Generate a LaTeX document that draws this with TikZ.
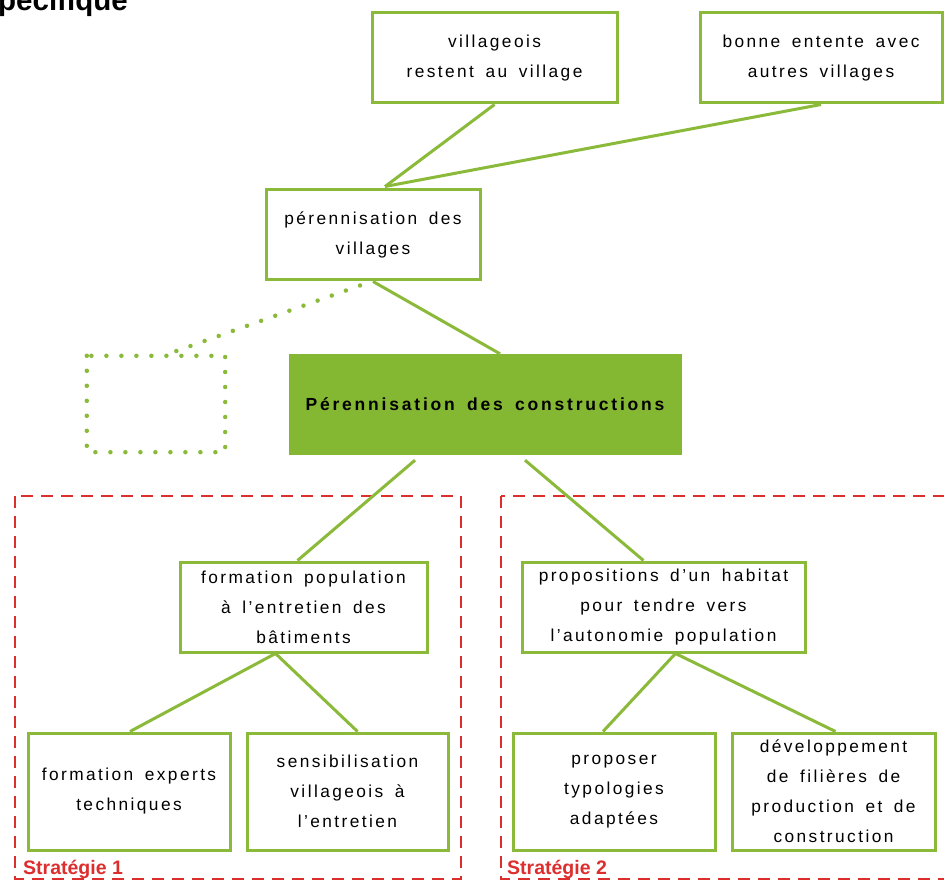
\documentclass[tikz,border=0pt]{standalone}
\usepackage{fontspec}
\setmainfont{Liberation Sans}[LetterSpace=14,WordSpace=1.6]
\newfontfamily\titlefont{Liberation Sans}[LetterSpace=0]
\newfontfamily\mainboxfont{Liberation Sans}[LetterSpace=16,WordSpace=1.6]
\usetikzlibrary{calc}
\definecolor{leaf}{HTML}{8BBA3A}
\definecolor{leaffill}{HTML}{84B832}
\definecolor{stratred}{HTML}{DD2E2E}
\tikzset{
  gbox/.style={draw=leaf, line width=3pt, fill=white, align=center, font=\fontsize{17.3}{30}\selectfont, inner sep=0pt},
  link/.style={draw=leaf, line width=3pt},
  dotline/.style={draw=leaf, line width=4.5pt, line cap=round, dash pattern=on 0pt off 15pt},
  stratbox/.style={draw=stratred, line width=2.6pt, dash pattern=on 12pt off 8pt},
  stratlabel/.style={text=stratred, font=\titlefont\bfseries\fontsize{19.5}{22}\selectfont, anchor=base west, inner sep=0pt}
}
\begin{document}
\begin{tikzpicture}[x=1pt,y=-1pt]
\useasboundingbox (0,0) rectangle (944,882);
\clip (0,0) rectangle (944,882);
% title fragment
\node[anchor=base west, inner sep=0pt, font=\titlefont\bfseries\fontsize{29.5}{32}\selectfont] (title) at (-2,11) {pécifique};
% strategy boxes
\draw[stratbox] (15,496) rectangle (461,879);
\draw[stratbox] (501,496) rectangle (950,879);
\node[stratlabel] (s1) at (23,874) {Stratégie 1};
\node[stratlabel] (s2) at (507,874) {Stratégie 2};
% nodes
\node[gbox, minimum width=245pt, minimum height=90pt] (vill) at (494.5,58) {villageois\\restent au village};
\node[gbox, minimum width=242pt, minimum height=90pt] (bonne) at (821,58) {bonne entente avec\\autres villages};
\node[gbox, minimum width=214pt, minimum height=90pt] (per) at (373,235) {pérennisation des\\villages};
\node[draw=none, minimum width=138pt, minimum height=96pt] (dotb) at (156,404) {};
\draw[dotline] (dotb.north west) rectangle (dotb.south east);
\node[fill=leaffill, draw=leaffill, minimum width=392pt, minimum height=100pt, inner sep=0pt, font=\mainboxfont\bfseries\fontsize{17.5}{20}\selectfont] (main) at (485,404) {Pérennisation des constructions};
\node[gbox, minimum width=247pt, minimum height=90pt] (form) at (303.5,607) {formation population\\à l’entretien des\\bâtiments};
\node[gbox, minimum width=283pt, minimum height=90pt] (prop) at (663.5,607) {propositions d’un habitat\\pour tendre vers\\l’autonomie population};
\node[gbox, minimum width=202pt, minimum height=117pt] (exp) at (129,791.5) {formation experts\\techniques};
\node[gbox, minimum width=201pt, minimum height=117pt] (sens) at (347.5,791.5) {sensibilisation\\villageois à\\l’entretien};
\node[gbox, minimum width=202pt, minimum height=117pt] (typo) at (614,791.5) {proposer\\typologies\\adaptées};
\node[gbox, minimum width=203pt, minimum height=117pt] (dev) at (833.5,791.5) {développement\\de filières de\\production et de\\construction};
% connectors
\coordinate (pertop) at ($(per.north)+(12,-2)$);
\draw[link] (vill.south) -- (pertop);
\draw[link] (bonne.south) -- (pertop);
\draw[link] (per.south) -- ($(main.north)+(15,0)$);
\draw[dotline] ($(per.south)+(-13,4)$) -- ($(dotb.north)+(7,0)$);
\draw[link] ($(main.south)+(-70,6)$) -- ($(form.north)+(-6,0)$);
\draw[link] ($(main.south)+(40,6)$) -- ($(prop.north)+(-20,0)$);
\draw[link] ($(form.south)+(-28,0)$) -- ($(exp.north)+(1,0)$);
\draw[link] ($(form.south)+(-28,0)$) -- ($(sens.north)+(10,0)$);
\draw[link] ($(prop.south)+(12,0)$) -- ($(typo.north)+(-11,0)$);
\draw[link] ($(prop.south)+(12,0)$) -- ($(dev.north)+(2,0)$);
\end{tikzpicture}
\end{document}
